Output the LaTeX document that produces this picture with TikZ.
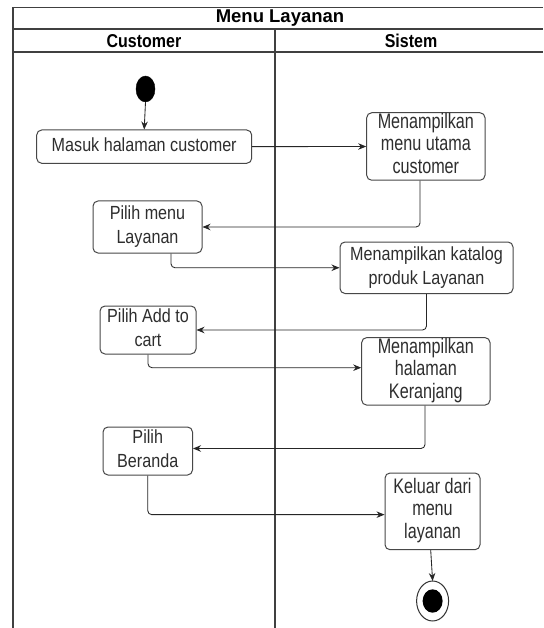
\documentclass[tikz,border=0pt]{standalone}
\usepackage{fontspec}
\usepackage{graphicx}
\setmainfont{Liberation Sans}
\usetikzlibrary{arrows.meta}

% narrow multi-line labels used inside the action boxes
\newcommand\actlabel[1]{{\fontsize{19}{24}\selectfont
  \scalebox{0.85}[1]{\begin{tabular}{@{}c@{}}#1\end{tabular}}}}
\newcommand\tallabel[1]{{\fontsize{21}{22.5}\selectfont
  \scalebox{0.77}[1]{\begin{tabular}{@{}c@{}}#1\end{tabular}}}}
\newcommand\headlabel[1]{\scalebox{0.86}[1]{#1}}

\begin{document}
\begin{tikzpicture}[x=1pt,y=-1pt,
  frame/.style={draw=black!75,line width=1.2pt},
  action/.style={draw=black!72,line width=1pt,rounded corners=5pt,inner sep=0pt,
    text=black!82},
  flow/.style={draw=black!85,line width=0.85pt,rounded corners=4pt,
    -{Stealth[length=8pt,width=6.5pt]}},
]
\useasboundingbox (0,0) rectangle (543,628);
\fill[white] (0,0) rectangle (543,628);

% swimlane frame
\draw[frame] (543,7.3) -- (13,7.3) -- (13,628);
\draw[frame] (13,29) -- (543,29);
\draw[frame] (13,52) -- (543,52);
\draw[frame] (275,29) -- (275,628);

\node[font=\bfseries\fontsize{18.5}{20}\selectfont] (title) at (280,18) {Menu Layanan};
\node[font=\bfseries\fontsize{18.6}{20}\selectfont] (laneA) at (144,41) {\headlabel{Customer}};
\node[font=\bfseries\fontsize{18.6}{20}\selectfont] (laneB) at (411,41) {\headlabel{Sistem}};

% initial and final states
\draw[fill=black] (145.5,89) ellipse [x radius=9.5,y radius=13];
\coordinate (start) at (145.5,102);
\draw[black!80,line width=1pt] (432.6,601) ellipse [x radius=16,y radius=20];
\fill[black] (432.6,601) ellipse [x radius=10,y radius=11.7];
\coordinate (final) at (432.6,581);

% actions
\node[action,minimum width=215pt,minimum height=33.3pt] (masuk) at (144.2,146.65)
  {\actlabel{Masuk halaman customer}};
\node[action,minimum width=118.3pt,minimum height=65pt] (utama) at (425.85,146.5)
  {\tallabel{Menampilkan\\menu utama\\customer}};
\node[action,minimum width=109pt,minimum height=52pt] (pilihmenu) at (147.5,227)
  {\actlabel{Pilih menu\\Layanan}};
\node[action,minimum width=173pt,minimum height=51.5pt] (katalog) at (426.5,267.75)
  {\actlabel{Menampilkan katalog\\produk Layanan}};
\node[action,minimum width=96pt,minimum height=42pt] (addcart) at (148,330)
  {\actlabel{Pilih Add to\\cart}};
\node[action,minimum width=128.3pt,minimum height=60.7pt] (keranjang) at (425.85,371.35)
  {\tallabel{Menampilkan\\halaman\\Keranjang}};
\node[action,minimum width=89.5pt,minimum height=36pt] (beranda) at (147.75,451)
  {\actlabel{Pilih\\Beranda}};
\node[action,minimum width=95pt,minimum height=76.7pt] (keluar) at (432.5,511.35)
  {\tallabel{Keluar dari\\menu\\layanan}};

% control flow
\draw[flow] (start) -- (masuk.north);
\draw[flow] (masuk.east) -- (utama.west);
\draw[flow] ([xshift=-5.85pt]utama.south) |- (pilihmenu.east);
\draw[flow] ([xshift=23.5pt]pilihmenu.south) |- (katalog.west);
\draw[flow] (katalog.south) |- (addcart.east);
\draw[flow] (addcart.south) |- ([yshift=3.65pt]keranjang.west);
\draw[flow] ([xshift=-0.85pt]keranjang.south) |- ([yshift=2.5pt]beranda.east);
\draw[flow] (beranda.south) |- ([yshift=-3.3pt]keluar.west);
\draw[flow] ([xshift=-1.8pt]keluar.south) -- (final);
\end{tikzpicture}
\end{document}
